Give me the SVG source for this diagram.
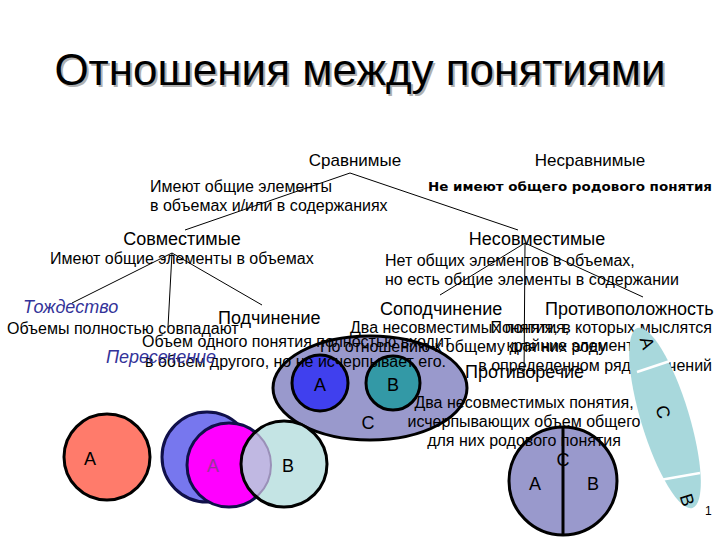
<svg xmlns="http://www.w3.org/2000/svg" width="720" height="540" viewBox="0 0 720 540">
<defs>
<style>
text{font-family:"Liberation Sans",Arial,sans-serif;fill:#000}
.t{font-size:44px}
.sh{fill:#b0b0b0}
.h{font-size:18px}
.hs{font-size:17px}
.d{font-size:16px}
.it{font-style:italic;fill:#333399;font-size:18px}
.lt{font-size:16px}
.bold{font-family:"DejaVu Sans",sans-serif;font-weight:bold;font-size:13px}
.ln{stroke:#000;stroke-width:1;fill:none}
.ol{stroke:#000;stroke-width:3}
.wl{stroke:#fff;stroke-width:2.5}
</style>
<clipPath id="clipB"><circle cx="284" cy="464" r="43"/></clipPath>
</defs>
<rect width="720" height="540" fill="#fff"/>

<g id="title">
<text class="t sh" x="362" y="87" text-anchor="middle">Отношения между понятиями</text>
<text class="t" x="360" y="85" text-anchor="middle">Отношения между понятиями</text>
</g>

<g id="connectors">
<line class="ln" x1="350" y1="173" x2="185" y2="230"/>
<line class="ln" x1="350" y1="173" x2="518" y2="230"/>
<line class="ln" x1="172" y1="253" x2="72" y2="303"/>
<line class="ln" x1="172" y1="253" x2="168" y2="327"/>
<line class="ln" x1="172" y1="253" x2="262" y2="305"/>
<line class="ln" x1="525" y1="243" x2="440" y2="295"/>
<line class="ln" x1="525" y1="243" x2="524" y2="378"/>
<line class="ln" x1="525" y1="243" x2="643" y2="297"/>
</g>

<g id="subordination-figure">
<ellipse cx="370" cy="388" rx="97" ry="52" fill="#9999cc" class="ol"/>
<circle cx="320" cy="383" r="28" fill="#4040ee" class="ol"/>
<circle cx="393" cy="383" r="27" fill="#3399a6" class="ol"/>
<text class="h" x="320" y="391" text-anchor="middle">A</text>
<text class="h" x="393" y="391" text-anchor="middle">B</text>
<text class="h" x="368" y="429" text-anchor="middle">C</text>
</g>

<g id="identity-figure">
<circle cx="107" cy="457" r="43" fill="#ff7b6b" class="ol"/>
<text class="h" x="90" y="465" text-anchor="middle">A</text>
</g>

<g id="intersection-figure">
<circle cx="207" cy="457" r="45" fill="#7777ee" stroke="#10104a" stroke-width="3"/>
<circle cx="229" cy="465" r="42" fill="#ff00ff" stroke="#10104a" stroke-width="3"/>
<circle cx="284" cy="464" r="43" fill="#c4e4e4"/>
<circle cx="229" cy="465" r="42" fill="#c0b8e2" stroke="#9a90b8" stroke-width="2" clip-path="url(#clipB)"/>
<circle cx="284" cy="464" r="43" fill="none" class="ol"/>
<text class="h" x="213" y="472" text-anchor="middle" style="fill:#993399">A</text>
<text class="h" x="288" y="472" text-anchor="middle">B</text>
</g>

<g id="contradiction-figure">
<circle cx="563" cy="481" r="54" fill="#9999cc" class="ol"/>
<line x1="563" y1="427" x2="563" y2="535" class="ol"/>
</g>

<g id="n-comparable">
<text class="hs" x="355" y="166" text-anchor="middle">Сравнимые</text>
<text class="d" x="150" y="192">Имеют общие элементы</text>
<text class="d" x="150" y="211">в объемах и/или в содержаниях</text>
</g>
<g id="n-incomparable">
<text class="hs" x="590" y="166" text-anchor="middle">Несравнимые</text>
<text class="bold" x="428" y="191" textLength="284" lengthAdjust="spacingAndGlyphs">Не имеют общего родового понятия</text>
</g>
<g id="n-compatible">
<text class="h" x="182" y="245" text-anchor="middle">Совместимые</text>
<text class="d" x="50" y="264">Имеют общие элементы в объемах</text>
</g>
<g id="n-incompatible">
<text class="h" x="537" y="245" text-anchor="middle">Несовместимые</text>
<text class="d" x="385" y="266">Нет общих элементов в объемах,</text>
<text class="d" x="385" y="285">но есть общие элементы в содержании</text>
</g>
<g id="n-identity">
<text class="it" x="23" y="313">Тождество</text>
<text class="lt" x="7" y="334">Объемы полностью совпадают</text>
</g>
<g id="n-subordination">
<text class="h" x="218" y="324">Подчинение</text>
<text class="lt" x="142" y="347">Объем одного понятия полностью входит</text>
<text class="lt" x="145" y="367">в объем другого, но не исчерпывает его.</text>
</g>
<g id="n-intersection">
<text class="it" x="106" y="363">Пересечение</text>
</g>
<g id="n-coordination">
<text class="h" x="380" y="315">Соподчинение</text>
<text class="lt" x="350" y="333">Два несовместимых понятия,</text>
<text class="lt" x="320" y="352">По отношению к общему для них роду</text>
</g>
<g id="n-opposition">
<text class="h" x="545" y="315">Противоположность</text>
<text class="lt" x="712" y="333" text-anchor="end">Понятия, в которых мыслятся</text>
<text class="lt" x="645" y="351" text-anchor="end">крайние элементы</text>
<text class="lt" x="712" y="371" text-anchor="end">в определенном ряду значений</text>
</g>
<g id="n-contradiction">
<text class="h" x="465" y="378">Противоречие</text>
<text class="d" x="524" y="408" text-anchor="middle">Два несовместимых понятия,</text>
<text class="d" x="524" y="427" text-anchor="middle">исчерпывающих объем общего</text>
<text class="d" x="524" y="446" text-anchor="middle">для них родового понятия</text>
<text class="h" x="563" y="466" text-anchor="middle">C</text>
<text class="h" x="535" y="490" text-anchor="middle">A</text>
<text class="h" x="593" y="490" text-anchor="middle">B</text>
</g>

<g id="opposition-figure">
<ellipse cx="665" cy="418" rx="24" ry="94" fill="#a8d8dc" transform="rotate(-17 665 418)"/>
<line class="wl" x1="637" y1="372" x2="673" y2="360"/>
<line class="wl" x1="660" y1="480" x2="700" y2="473"/>
<text class="h" transform="translate(647 343) rotate(73)" text-anchor="middle" y="6">A</text>
<text class="h" transform="translate(663 412) rotate(73)" text-anchor="middle" y="6">C</text>
<text class="h" transform="translate(687 500) rotate(73)" text-anchor="middle" y="6">B</text>
</g>
<text x="705" y="515" style="font-size:12px">1</text>
</svg>
